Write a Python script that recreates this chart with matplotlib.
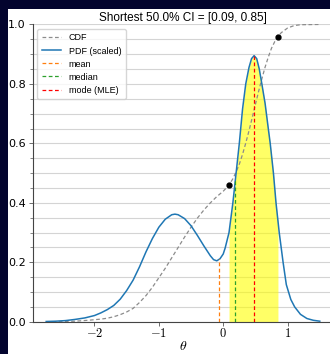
import numpy as np
import matplotlib
matplotlib.use('Agg')
from matplotlib import pyplot as plt
from matplotlib.patches import Rectangle
from matplotlib.ticker import MultipleLocator, FuncFormatter

plt.rcParams['mathtext.fontset'] = 'cm'

# PDF (scaled)
pdf_x = [-2.75, -2.6, -2.45, -2.3, -2.15, -2.0, -1.9, -1.8, -1.7, -1.6, -1.5, -1.4,
         -1.3, -1.2, -1.1, -1.0, -0.9, -0.8, -0.75, -0.7, -0.6, -0.5, -0.4, -0.3,
         -0.2, -0.15, -0.1, -0.05, 0.0, 0.03, 0.09, 0.15, 0.2, 0.25, 0.3, 0.35, 0.4, 0.44,
         0.48, 0.52, 0.56, 0.6, 0.65, 0.7, 0.73, 0.78, 0.82, 0.85, 0.87, 0.9, 0.93,
         0.98, 1.05, 1.11, 1.2, 1.3, 1.4, 1.5]
pdf_y = [0.001, 0.002, 0.004, 0.008, 0.013, 0.021, 0.030, 0.041, 0.055, 0.076, 0.105, 0.14,
         0.185, 0.235, 0.28, 0.318, 0.345, 0.36, 0.362, 0.36, 0.347, 0.323, 0.29, 0.255,
         0.222, 0.209, 0.205, 0.212, 0.228, 0.248, 0.30, 0.40, 0.50, 0.60, 0.715, 0.80, 0.855, 0.885,
         0.895, 0.885, 0.85, 0.80, 0.735, 0.65, 0.60, 0.50, 0.40, 0.34, 0.30, 0.25, 0.20,
         0.125, 0.075, 0.05, 0.025, 0.011, 0.005, 0.002]

# CDF
cdf_x = [-2.75, -2.5, -2.3, -2.1, -1.9, -1.8, -1.7, -1.6, -1.5, -1.4, -1.3, -1.2, -1.1,
         -1.0, -0.9, -0.8, -0.7, -0.6, -0.5, -0.4, -0.3, -0.2, -0.1, 0.0, 0.09, 0.15,
         0.2, 0.25, 0.3, 0.35, 0.4, 0.45, 0.5, 0.55, 0.6, 0.65, 0.7, 0.75, 0.8, 0.85,
         0.9, 1.0, 1.1, 1.2, 1.5]
cdf_y = [0.0, 0.001, 0.002, 0.005, 0.009, 0.012, 0.017, 0.024, 0.033, 0.045, 0.065, 0.088, 0.116,
         0.148, 0.18, 0.215, 0.25, 0.285, 0.318, 0.349, 0.376, 0.40, 0.421, 0.439, 0.46, 0.481,
         0.504, 0.53, 0.563, 0.601, 0.642, 0.686, 0.731, 0.775, 0.817, 0.856, 0.89, 0.92, 0.942, 0.958,
         0.972, 0.988, 0.996, 0.999, 1.0]

ci = [0.09, 0.85]
ci_cdf = [0.46, 0.958]
stat_names = ['mean', 'median', 'mode (MLE)']
stat_x = [-0.065, 0.19, 0.48]
stat_h = [0.21, 0.48, 0.895]
stat_colors = ['C1', 'C2', 'r']

fig = plt.figure(figsize=(3.30, 3.54), dpi=100, facecolor='#03042e')
fig.patches.append(Rectangle((8 / 330, 0), 1, 1 - 9 / 354, transform=fig.transFigure,
                             facecolor='white', edgecolor='none', zorder=-1))
ax = fig.add_axes([0.0985, 0.091, 0.912, 0.840])

x = np.array(pdf_x)
y = np.array(pdf_y)
ax.plot(cdf_x, cdf_y, ls='--', color='0.55', lw=0.9, dashes=(3, 2), label='CDF')
ax.plot(x, y, color='C0', lw=1.1, label='PDF (scaled)')
ax.fill_between(x, 0, y, where=(x >= ci[0]) & (x <= ci[1]), color='yellow', alpha=0.6, lw=0)
for sx, sh, c, n in zip(stat_x, stat_h, stat_colors, stat_names):
    ax.plot([sx, sx], [0, sh], ls='--', color=c, lw=0.9, dashes=(3, 2), label=n)
ax.plot(ci, ci_cdf, 'o', color='black', ms=3.5)

ax.set_ylim(0, 1)
ax.yaxis.set_major_locator(MultipleLocator(0.2))
ax.yaxis.set_minor_locator(MultipleLocator(0.05))
ax.xaxis.set_major_locator(MultipleLocator(1))
ax.xaxis.set_major_formatter(FuncFormatter(lambda v, p: r'$%d$' % v))
ax.grid(axis='y', which='both', color='#d4d4d4', lw=0.8)
ax.set_axisbelow(True)
for s in ['top', 'right']:
    ax.spines[s].set_visible(False)
for s in ['left', 'bottom']:
    ax.spines[s].set_color('#444444')
    ax.spines[s].set_linewidth(0.8)
ax.tick_params(axis='both', which='major', labelsize=8, length=3, width=0.6, color='#555555', pad=2)
ax.tick_params(axis='y', which='minor', length=2, width=0.5, color='#555555')
ax.tick_params(axis='x', labelsize=9, pad=1)

ax.set_xlabel(r'$\theta$', fontsize=10, labelpad=-1)
ax.set_title('Shortest 50.0% CI = [0.09, 0.85]', fontsize=8.5, family='Liberation Sans', pad=2.5)
ax.legend(loc='upper left', prop={'family': 'Liberation Sans', 'size': 6.5},
          handlelength=2.2, borderpad=0.5, labelspacing=0.45, framealpha=0.8, edgecolor='#cccccc')

fig.savefig('out.png', dpi=100, facecolor=fig.get_facecolor())
